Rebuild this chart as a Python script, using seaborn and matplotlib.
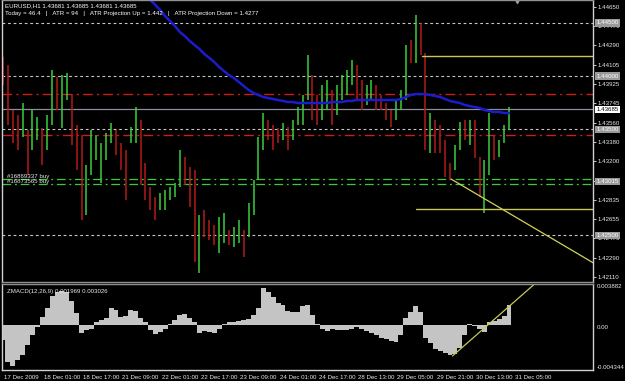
import numpy as np
import pandas as pd
import matplotlib
matplotlib.use("Agg")
import matplotlib.pyplot as plt
import matplotlib.transforms as mtrans
import seaborn as sns

# ---------------- data ----------------
symbol_header = "EURUSD,H1 1.43681 1.43685 1.43681 1.43685"
atr_header = "Today = 46.4   |   ATR = 94   |   ATR Projection Up = 1.442   |   ATR Projection Down = 1.4277"
macd_title = "ZMACD(12,26,9) 0.001969 0.003026"

bar_hours = list(range(0, 208, 2))
highs = [1.44179, 1.44104, 1.43680, 1.43633, 1.43746, 1.43491, 1.43680, 1.43614, 1.43510, 1.43633,
         1.44057, 1.43991, 1.44009, 1.44028, 1.43821, 1.43538, 1.43444, 1.43162, 1.43491, 1.43444,
         1.43369, 1.43463, 1.43557, 1.43491, 1.43369, 1.43303, 1.43520, 1.43708, 1.43586, 1.43181,
         1.42954, 1.42860, 1.42898, 1.42926, 1.42954, 1.42992, 1.43303, 1.43237, 1.43143, 1.43115,
         1.42691, 1.42738, 1.42644, 1.42596, 1.42672, 1.42710, 1.42550, 1.42578, 1.42644, 1.42550,
         1.42804, 1.43020, 1.43425, 1.43652, 1.43586, 1.43538, 1.43510, 1.43557, 1.43520, 1.43586,
         1.43708, 1.43821, 1.44198, 1.44009, 1.43821, 1.43915, 1.43962, 1.43868, 1.43915, 1.44009,
         1.44057, 1.44151, 1.44104, 1.43962, 1.43915, 1.43962, 1.43915, 1.43821, 1.43746, 1.43680,
         1.43774, 1.43868, 1.44292, 1.44339, 1.44575, 1.44499, 1.44217, 1.43652, 1.43586, 1.43538,
         1.43397, 1.43181, 1.43350, 1.43567, 1.43586, 1.43586, 1.43586, 1.43237, 1.43209, 1.43652,
         1.43444, 1.43397, 1.43538, 1.43708]
lows = [1.43915, 1.43538, 1.43369, 1.43303, 1.43425, 1.43067, 1.43303, 1.43397, 1.43162, 1.43303,
        1.43538, 1.43680, 1.43510, 1.43774, 1.43350, 1.43115, 1.42644, 1.42691, 1.43067, 1.43209,
        1.42992, 1.43209, 1.43369, 1.43256, 1.43115, 1.42832, 1.43369, 1.43369, 1.42973, 1.42832,
        1.42738, 1.42644, 1.42738, 1.42738, 1.42832, 1.42860, 1.42954, 1.42973, 1.42766, 1.42248,
        1.42144, 1.42483, 1.42455, 1.42408, 1.42333, 1.42427, 1.42408, 1.42389, 1.42427, 1.42295,
        1.42483, 1.42691, 1.43020, 1.43303, 1.43397, 1.43303, 1.43369, 1.43397, 1.43303, 1.43397,
        1.43538, 1.43538, 1.43774, 1.43586, 1.43538, 1.43586, 1.43680, 1.43538, 1.43633, 1.43774,
        1.43821, 1.43915, 1.43774, 1.43680, 1.43727, 1.43774, 1.43680, 1.43680, 1.43586, 1.43520,
        1.43586, 1.43680, 1.43774, 1.44123, 1.44123, 1.44198, 1.43303, 1.43275, 1.43275, 1.43275,
        1.43049, 1.43020, 1.43115, 1.43303, 1.43397, 1.43350, 1.43228, 1.42860, 1.42710, 1.43067,
        1.43209, 1.43237, 1.43369, 1.43491]
direction = ("DDDDUDUUDU" "UDUUDDDUUU" "UUUDDDUUDD" "DDUUUUUDDD" "UDDDUUDUUD"
             "UUUUDDDUDU" "UUUDDUUDUU" "UUDDUUDDDD" "UUUDUDDUDD" "DDUUDUDDUU" "DUUU")

ma_hours = list(range(58, 208, 2))
ma_values = [1.44773, 1.44716, 1.44669, 1.44622, 1.44565, 1.44518, 1.44471, 1.44415, 1.44377, 1.44330,
             1.44292, 1.44254, 1.44207, 1.44170, 1.44132, 1.44085, 1.44047, 1.44009, 1.43981, 1.43944,
             1.43906, 1.43868, 1.43840, 1.43821, 1.43802, 1.43793, 1.43783, 1.43774, 1.43765, 1.43755,
             1.43755, 1.43746, 1.43746, 1.43746, 1.43746, 1.43746, 1.43746, 1.43746, 1.43755, 1.43755,
             1.43755, 1.43765, 1.43765, 1.43774, 1.43774, 1.43774, 1.43774, 1.43774, 1.43774, 1.43774,
             1.43774, 1.43774, 1.43783, 1.43802, 1.43821, 1.43830, 1.43830, 1.43830, 1.43821, 1.43812,
             1.43802, 1.43783, 1.43765, 1.43755, 1.43746, 1.43727, 1.43717, 1.43708, 1.43699, 1.43680,
             1.43670, 1.43661, 1.43661, 1.43652, 1.43652]

macd_values = [-0.0015, -0.0036, -0.0040, -0.0034, -0.0029, -0.0020, -0.0010, -0.0002, 0.0007, 0.0016,
               0.0027, 0.0031, 0.0032, 0.0031, 0.0023, 0.0011, -0.0008, -0.0005, -0.0004, 0.0002,
               0.0004, 0.0006, 0.0016, 0.0014, 0.0007, 0.0008, 0.0014, 0.0013, 0.0006, 0.0002,
               -0.0005, -0.0009, -0.0007, -0.0004, 0.0001, 0.0004, 0.0009, 0.0010, 0.0006, 0.0002,
               -0.0008, -0.0006, -0.0007, -0.0008, -0.0004, 0.0001, 0.0002, 0.0002, 0.0003, 0.0004,
               0.0005, 0.0009, 0.0016, 0.0035, 0.0031, 0.0026, 0.0021, 0.0019, 0.0013, 0.0012,
               0.0012, 0.0018, 0.0019, 0.0009, 0.0001, -0.0004, -0.0006, -0.0004, -0.0005, -0.0005,
               -0.0005, -0.0004, -0.0002, -0.0004, -0.0006, -0.0008, -0.0010, -0.0013, -0.0014, -0.0016,
               -0.0017, -0.0010, 0.0006, 0.0012, 0.0018, 0.0012, -0.0013, -0.0018, -0.0023, -0.0025,
               -0.0027, -0.0029, -0.0028, -0.0022, -0.0010, 0.0001, -0.0001, -0.0004, -0.0007, 0.0002,
               0.0003, 0.0005, 0.0008, 0.0019]

price_ticks = [1.44650, 1.44470, 1.44290, 1.44105, 1.43925, 1.43745, 1.43560, 1.43380,
               1.43200, 1.43015, 1.42835, 1.42655, 1.42470, 1.42290, 1.42110]
price_tick_labels = ["1.44650", "1.44470", "1.44290", "1.44105", "1.43925", "1.43745", "1.43560",
                     "1.43380", "1.43200", "1.43015", "1.42835", "1.42655", "1.42470", "1.42290",
                     "1.42110"]
macd_ticks = [0.003882, 0.0, -0.004344]
macd_tick_labels = ["0.003882", "0.00", "-0.004344"]

date_tick_hours = list(range(0, 209, 16))
date_labels = ["17 Dec 2009", "18 Dec 01:00", "18 Dec 17:00", "21 Dec 09:00", "22 Dec 01:00",
               "22 Dec 17:00", "23 Dec 09:00", "24 Dec 01:00", "24 Dec 17:00", "28 Dec 13:00",
               "29 Dec 05:00", "29 Dec 21:00", "30 Dec 13:00", "31 Dec 05:00"]

dashed_levels = [1.44500, 1.44000, 1.43500, 1.42500]
dashed_level_labels = ["1.44500", "1.44000", "1.43500", "1.42500"]
red_levels = [1.43831, 1.43444]
green_levels = [1.43030, 1.42983]
order_labels = ["#16869337 buy", "#16873565 buy"]
order_box_label = "1.43015"
bid_price = 1.43685
bid_label = "1.43685"
proj_up = 1.44189
proj_up_start = 170.6
proj_down = 1.42748
proj_down_start = 168.2
trend_main_h = [182.4, 234.9]
trend_main_p = [1.43030, 1.42314]
trend_macd_h = [183.0, 217.0]
trend_macd_v = [-0.0030, 0.0040]

# ---------------- style ----------------
sns.set_theme(style="dark", rc={"axes.facecolor": "black", "figure.facecolor": "black"})
plt.rcParams["font.family"] = ["Liberation Sans", "DejaVu Sans"]

W, H = 625, 381
fig = plt.figure(figsize=(W / 100, H / 100), dpi=100)
fig.patch.set_facecolor("black")

def frac(x0, y0, x1, y1):
    return [x0 / W, 1 - y1 / H, (x1 - x0) / W, (y1 - y0) / H]

ax = fig.add_axes(frac(2, 0, 593, 282))
mx = fig.add_axes(frac(2, 284, 593, 370))
XLIM = (-0.4, 240.2)

FS = 4.4
WHITE = "#e8e8e8"
GRID = "#c8c8c8"
UP = "#3ccf3c"
DN = "#b31b1b"

# ---- main panel ----
ax.set_facecolor("black")
ax.set_xlim(*XLIM)
ax.set_ylim(1.42060, 1.44716)

for lv in dashed_levels:
    ax.axhline(lv, color=GRID, lw=0.8, ls=(0, (2.5, 2.5)))
for lv in red_levels:
    ax.axhline(lv, color="#c81e1e", lw=1.0, ls=(0, (7, 3, 1.5, 3)))
for lv in green_levels:
    ax.axhline(lv, color="#3cc83c", lw=0.9, ls=(0, (7, 3, 1.5, 3)))
ax.axhline(bid_price, color="#8c8c9a", lw=0.9)

colors = [UP if d == "U" else DN for d in direction]
ax.vlines(bar_hours, lows, highs, colors=colors, linewidth=1.1)

ma_df = pd.DataFrame({"hour": ma_hours, "ma": ma_values})
sns.lineplot(data=ma_df, x="hour", y="ma", ax=ax, color="#1c1ccf", linewidth=1.8)

ax.plot([proj_up_start, XLIM[1]], [proj_up, proj_up], color="#c8c85a", lw=1.0)
ax.plot([proj_down_start, XLIM[1]], [proj_down, proj_down], color="#c8c85a", lw=1.0)
slope = (trend_main_p[1] - trend_main_p[0]) / (trend_main_h[1] - trend_main_h[0])
ax.plot([trend_main_h[0], XLIM[1] + 5],
        [trend_main_p[0], trend_main_p[0] + slope * (XLIM[1] + 5 - trend_main_h[0])],
        color="#d2d25a", lw=0.9)

ax.yaxis.tick_right()
ax.set_yticks(price_ticks)
ax.set_yticklabels(price_tick_labels)
ax.tick_params(axis="y", colors=WHITE, labelsize=FS, length=2, width=0.6, pad=1.5, direction="out")
ax.set_xticks([])
ax.set_xlabel("")
ax.set_ylabel("")
ax.grid(False)
for side, sp in ax.spines.items():
    sp.set_visible(True)
    sp.set_linewidth(1.0)
    sp.set_color("#d0d0d0" if side in ("left", "right") else "#909090")

# boxed level labels on the price axis
trans = mtrans.blended_transform_factory(ax.transAxes, ax.transData)
for lv, lab in zip(dashed_levels, dashed_level_labels):
    ax.text(1.006, lv, lab, transform=trans, fontsize=FS, color="#ffffff", va="center", ha="left",
            bbox=dict(boxstyle="square,pad=0.18", fc="#9a9a9a", ec="none"), clip_on=False, zorder=5)
ax.text(1.006, bid_price, bid_label, transform=trans, fontsize=FS, color="black", va="center", ha="left",
        bbox=dict(boxstyle="square,pad=0.18", fc="#ffffff", ec="none"), clip_on=False, zorder=5)
ax.text(1.006, sum(green_levels) / 2, order_box_label, transform=trans, fontsize=FS, color="#ffffff",
        va="center", ha="left", bbox=dict(boxstyle="square,pad=0.18", fc="#9a9a9a", ec="none"),
        clip_on=False, zorder=5)

# order labels
for lv, lab in zip(green_levels, order_labels):
    ax.text(1.5, lv + 0.00004, lab, fontsize=FS, color=WHITE, va="bottom", ha="left")

# header texts
fig.text(5 / W, 1 - 5.5 / H, symbol_header, fontsize=FS, color="#ffffff", va="center", ha="left")
fig.text(5 / W, 1 - 13.5 / H, atr_header, fontsize=FS, color="#ffffff", va="center", ha="left")
ax.plot([0.872], [0.995], marker="v", ms=3, color="#a0a0a0", transform=ax.transAxes, clip_on=False)

# ---- MACD panel ----
mx.set_facecolor("black")
mx.set_xlim(*XLIM)
mx.set_ylim(-0.004344, 0.003882)
mx.bar(bar_hours, macd_values, width=2.0, color="#c4c4c4", linewidth=0)
mx.plot(trend_macd_h, trend_macd_v, color="#c8c85a", lw=0.9)
mx.yaxis.tick_right()
mx.set_yticks(macd_ticks)
mx.set_yticklabels(macd_tick_labels)
vas = ["top", "top", "bottom"]
for lab, va in zip(mx.get_yticklabels(), vas):
    lab.set_verticalalignment(va)
mx.tick_params(axis="y", colors=WHITE, labelsize=FS, length=0, pad=2.5)
mx.set_xticks(date_tick_hours)
mx.set_xticklabels(date_labels)
mx.tick_params(axis="x", colors=WHITE, labelsize=FS, length=3, width=0.6, pad=0.5, direction="out")
off = mtrans.ScaledTranslation(1.5 / 100, 0, fig.dpi_scale_trans)
for lab in mx.get_xticklabels():
    lab.set_horizontalalignment("left")
    lab.set_transform(lab.get_transform() + off)
mx.set_xlabel("")
mx.set_ylabel("")
mx.grid(False)
for side, sp in mx.spines.items():
    sp.set_visible(True)
    sp.set_linewidth(1.0)
    sp.set_color("#909090" if side == "top" else "#d0d0d0")
mx.text(5 / 591, 0.94, macd_title, transform=mx.transAxes, fontsize=FS, color=WHITE, va="top", ha="left")

fig.savefig("out.png", dpi=100, facecolor="black")
